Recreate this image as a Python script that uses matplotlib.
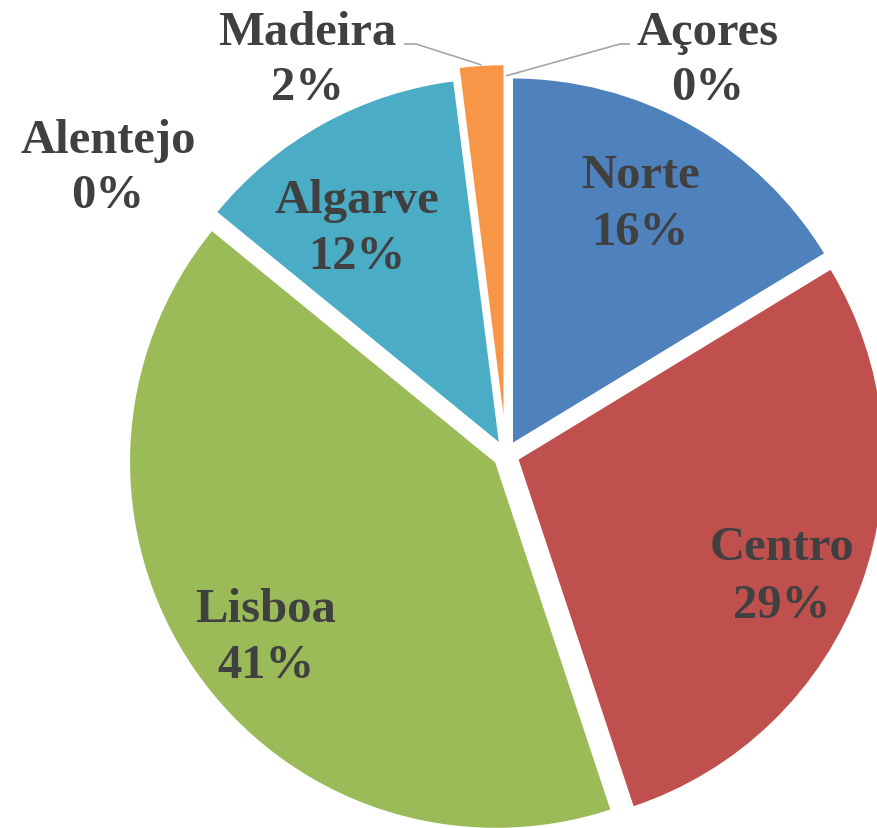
import numpy as np
import matplotlib
matplotlib.use("Agg")
import matplotlib.pyplot as plt

regions = ["Norte", "Centro", "Lisboa", "Alentejo", "Algarve", "Madeira", "Açores"]
shares = [16.3, 28.6, 41.0, 0.0, 12.1, 2.0, 0.0]
colors = ["#4F81BD", "#C0504D", "#9BBB59", "#8064A2", "#4BACC6", "#F79646", "#2C4D75"]
explode = [0.033, 0.033, 0.033, 0.033, 0.033, 0.065, 0.033]

W, H = 877, 829
R = 367.0          # pie radius in pixels
CX, CY = 506, 456  # pie centre in pixels


def px(x, y):
    return (x - CX) / R, (CY - y) / R


fig = plt.figure(figsize=(W / 100, H / 100), dpi=100)
ax = fig.add_axes([0, 0, 1, 1])
wedges, _ = ax.pie(shares, colors=colors, startangle=90, counterclock=False,
                   explode=explode, radius=1.0,
                   wedgeprops=dict(edgecolor="white", linewidth=1.5))
ax.set_xlim(-CX / R, (W - CX) / R)
ax.set_ylim(-(H - CY) / R, CY / R)
ax.set_aspect("equal")
ax.axis("off")

# label baselines (pixel layout): centre x, name line, percent line
label_pos = {
    "Norte": (640, 188, 245),
    "Centro": (782, 560, 618),
    "Lisboa": (266, 622, 678),
    "Alentejo": (108, 153, 208),
    "Algarve": (357, 213, 269),
    "Madeira": (307, 45, 100),
    "Açores": (708, 45, 100),
}
txt = dict(ha="center", va="baseline", fontsize=35, fontweight="bold",
           family="Liberation Serif", color="#404040")
for name, val in zip(regions, shares):
    x, y1, y2 = label_pos[name]
    ax.text(*px(x, y1), name, **txt)
    ax.text(*px(x, y2), f"{val:.0f}%", **txt)

# leader lines for the small slices
for name, hx0, hx1, reach in [("Madeira", 404, 416, 1.0), ("Açores", 630, 620, 1.0)]:
    w = wedges[regions.index(name)]
    mid = np.deg2rad((w.theta1 + w.theta2) / 2)
    cx, cy = w.center
    ex, ey = cx + reach * np.cos(mid), cy + reach * np.sin(mid)
    (x0, y0), (x1, y1) = px(hx0, 45), px(hx1, 45)
    ax.plot([x0, x1, ex], [y0, y1, ey], color="#A6A6A6", lw=1.2,
            solid_capstyle="butt")

fig.savefig("out.png", dpi=100)
